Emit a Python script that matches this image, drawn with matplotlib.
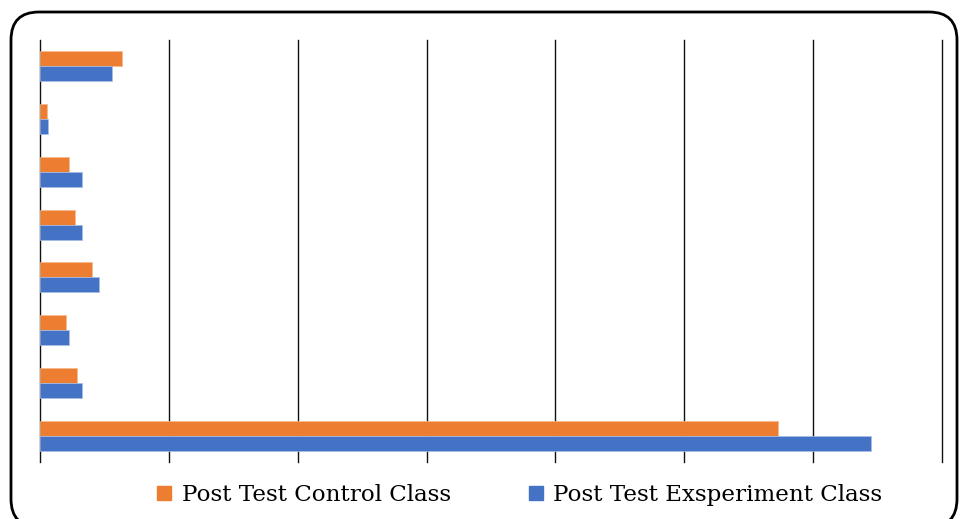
import numpy as np
import matplotlib.pyplot as plt
from matplotlib.patches import FancyBboxPatch, Patch

# categories from bottom to top (no labels shown in the chart)
categories = ["1", "2", "3", "4", "5", "6", "7", "8"]
control = [57.3, 2.9, 2.0, 4.05, 2.75, 2.25, 0.55, 6.35]
experiment = [64.5, 3.25, 2.25, 4.6, 3.25, 3.25, 0.6, 5.55]
legend_labels = ["Post Test Control Class", "Post Test Exsperiment Class"]

orange = "#ED7D31"
blue = "#4472C4"

fig = plt.figure(figsize=(9.6, 5.19), dpi=100)

# rounded frame round the whole chart
frame = FancyBboxPatch((11, -8), 946, 515, boxstyle="round,pad=0,rounding_size=28",
                       transform=None, facecolor="white", edgecolor="black",
                       linewidth=2, zorder=-5)
fig.patches.append(frame)

ax = fig.add_axes([40 / 960, (519 - 462) / 519, 902 / 960, 422 / 519])
ax.patch.set_alpha(0)
ax.set_zorder(2)

y = np.arange(len(categories))
h = 0.285
ax.barh(y + h / 2, control, height=h, color=orange, edgecolor="#f6b98e", linewidth=0.5)
ax.barh(y - h / 2, experiment, height=h, color=blue, edgecolor="#a9bfe6", linewidth=0.5)

ax.set_xlim(0, 70)
ax.set_ylim(-0.5, 7.5)
ax.set_xticks(range(0, 71, 10))
ax.set_yticks([])
ax.tick_params(axis="x", length=0, labelbottom=False)
ax.grid(axis="x", color="#111111", linewidth=1.0)
for gl in ax.get_xgridlines():
    gl.set_clip_on(False)
ax.set_axisbelow(True)
for s in ax.spines.values():
    s.set_visible(False)

handles = [Patch(color=orange), Patch(color=blue)]
fig.legend(handles, legend_labels, loc="center", bbox_to_anchor=(520 / 960, 1 - 495 / 519),
           ncol=2, frameon=False, handlelength=0.6, handleheight=0.6, handletextpad=0.45,
           columnspacing=3.4, prop={"family": "DejaVu Serif", "size": 16.6})

fig.savefig("out.png", dpi=100)
